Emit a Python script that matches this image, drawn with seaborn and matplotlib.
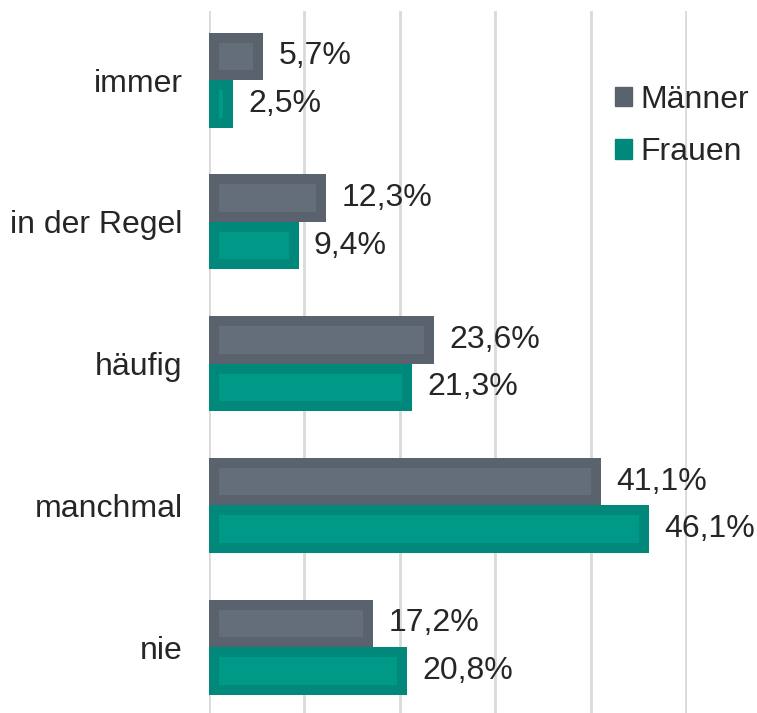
import matplotlib.pyplot as plt
import matplotlib.patches as mpatches
import seaborn as sns
import pandas as pd

categories = ['immer', 'in der Regel', 'häufig', 'manchmal', 'nie']
maenner = [5.7, 12.3, 23.6, 41.1, 17.2]
frauen = [2.5, 9.4, 21.3, 46.1, 20.8]
groups = ['Männer', 'Frauen']

# colours: outer frame and lighter inner fill
edge_colors = {'Männer': '#59626d', 'Frauen': '#00887a'}
face_colors = {'Männer': '#646e78', 'Frauen': '#009886'}

df = pd.DataFrame({
    'Kategorie': categories * 2,
    'Anteil': maenner + frauen,
    'Gruppe': ['Männer'] * len(categories) + ['Frauen'] * len(categories),
})

sns.set_style('white')
plt.rcParams['font.family'] = ['Liberation Sans', 'DejaVu Sans']

fig = plt.figure(figsize=(7.57, 7.13), dpi=100)
ax = fig.add_axes([0.276, 0.0, 0.632, 0.985])

sns.barplot(data=df, x='Anteil', y='Kategorie', hue='Gruppe', order=categories,
            hue_order=groups, palette=face_colors, saturation=1, orient='h',
            width=0.67, errorbar=None, legend=False, ax=ax)

# thick stroke clipped to the bar itself -> inset frame look
for cont, g in zip(ax.containers, groups):
    for p in cont:
        p.set_edgecolor(edge_colors[g])
        p.set_linewidth(14.4)
        p.set_clip_path(p)

for cont, vals in zip(ax.containers, [maenner, frauen]):
    ax.bar_label(cont, labels=[f'{v:.1f}%'.replace('.', ',') for v in vals],
                 padding=11, fontsize=23, color='#262626')

ax.set_xlim(0, 50.15)
ax.set_ylim(4.465, -0.49)
ax.set_xticks([0, 10, 20, 30, 40, 50])
ax.set_xticklabels([])
ax.grid(axis='x', color='#d9d9d9', linewidth=2)
ax.set_axisbelow(True)
ax.tick_params(axis='both', length=0)
ax.tick_params(axis='y', labelsize=23, labelcolor='#262626', pad=19)
ax.set_xlabel('')
ax.set_ylabel('')
for s in ax.spines.values():
    s.set_visible(False)

handles = [mpatches.Patch(color=edge_colors[g], label=g) for g in groups]
fig.legend(handles=handles, loc='upper left', bbox_to_anchor=(0.812, 0.881),
           frameon=False, fontsize=23, handlelength=0.55, handleheight=0.55,
           handletextpad=0.25, labelspacing=0.7, borderaxespad=0, borderpad=0,
           labelcolor='#262626')

fig.savefig('out.png', dpi=100)
